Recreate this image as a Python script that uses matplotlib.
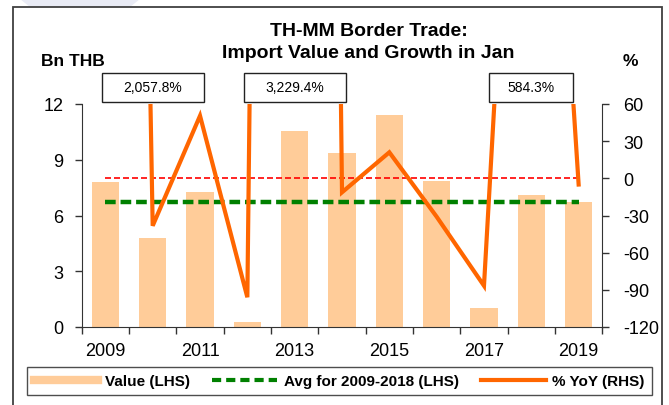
import matplotlib
matplotlib.use("Agg")
from matplotlib import pyplot as plt
from matplotlib.patches import Rectangle, Polygon
from matplotlib.lines import Line2D
import matplotlib.transforms as mtransforms
import numpy as np

plt.rcParams['font.family'] = ['Liberation Sans', 'DejaVu Sans']
plt.rcParams['axes.unicode_minus'] = False

# data
years = [2009, 2010, 2011, 2012, 2013, 2014, 2015, 2016, 2017, 2018, 2019]
value = [7.78, 4.77, 7.24, 0.29, 10.54, 9.39, 11.41, 7.87, 1.02, 7.08, 6.74]
yoy = [2057.8, -38.3, 50.5, -96.0, 3229.4, -11.3, 21.0, -31.0, -86.7, 584.3, -5.0]
label_years = [2010, 2013, 2018]
label_texts = ['2,057.8%', '3,229.4%', '584.3%']

bar_color = '#FFCC99'
line_color = '#FF6600'
green = '#008000'
axis_color = '#333333'

x = np.arange(len(years))
avg = np.mean(value[:10])

fig = plt.figure(figsize=(6.69, 4.06), dpi=100)

# faint watermark at top left and outer frame
fig.patches.append(Polygon([[20/669, 1.0], [140/669, 1.0], [130/669, 1-8/406], [30/669, 1-8/406]],
                           closed=True, transform=fig.transFigure, color='#e9ebf5', lw=0))
fig.patches.append(Rectangle((12.7/669, -0.05), 649/669, 1.05 - 8.3/406, transform=fig.transFigure,
                             fill=False, ec='#404040', lw=1.3))

ax = fig.add_axes([81.7/669, 78/406, 520.6/669, 223/406])
ax2 = ax.twinx()

ax.bar(x, value, width=0.58, color=bar_color, zorder=1)
ax.hlines(avg, x[0], x[-1], color=green, lw=3.2, linestyles=(0, (2.4, 1.1)), zorder=3)

ax2.hlines(0, x[0], x[-1], color='red', lw=1.2, linestyles=(0, (3.6, 1.8)), zorder=2)
ax2.plot(x, yoy, color=line_color, lw=3, solid_joinstyle='miter', zorder=3)

ax.set_xlim(-0.5, len(years) - 0.5)
ax.set_ylim(0, 12)
ax2.set_ylim(-120, 60)
ax.set_yticks([0, 3, 6, 9, 12])
ax2.set_yticks(np.arange(-120, 61, 30))

ax.set_xticks(np.arange(-0.5, len(years), 1))
ax.set_xticklabels([])
ax.set_xticks(x[::2], [str(y) for y in years[::2]], minor=True)
ax.tick_params(axis='x', which='major', direction='out', length=5, width=1, color=axis_color)
ax.tick_params(axis='x', which='minor', length=0, pad=11, labelsize=13)
ax.tick_params(axis='y', direction='out', length=5, width=1, color=axis_color, pad=8, labelsize=13)
ax2.tick_params(axis='y', direction='out', length=5, width=1, color=axis_color, pad=10, labelsize=13)

for a in (ax, ax2):
    a.spines['top'].set_visible(False)
    for s in a.spines.values():
        s.set_color(axis_color)
ax.spines['right'].set_visible(False)
ax2.spines['left'].set_visible(False)
ax2.spines['bottom'].set_visible(False)

# boxed labels for the clipped YoY values
trans = mtransforms.blended_transform_factory(ax.transData, ax.transAxes)
for yr, txt in zip(label_years, label_texts):
    cx = years.index(yr)
    w = 0.67 + 0.185 * len(txt)
    ax2.add_patch(Rectangle((cx - w / 2, 1.01), w, 0.13, transform=trans, clip_on=False,
                            fc='white', ec='#222222', lw=1))
    ax2.text(cx, 1.075, txt, transform=trans, ha='center', va='center', fontsize=10, clip_on=False)

fig.text(368.6/669, 1 - 32/406, 'TH-MM Border Trade:', ha='center', va='center',
         fontsize=14, fontweight='bold')
fig.text(368.6/669, 1 - 53/406, 'Import Value and Growth in Jan', ha='center', va='center',
         fontsize=14, fontweight='bold')
fig.text(72.6/669, 1 - 62/406, 'Bn THB', ha='center', va='center', fontsize=12.5, fontweight='bold')
fig.text(630/669, 1 - 62/406, '%', ha='center', va='center', fontsize=12.5, fontweight='bold')

handles = [Line2D([], [], color=bar_color, lw=6),
           Line2D([], [], color=green, lw=3, linestyle=(0, (2.2, 1.2))),
           Line2D([], [], color=line_color, lw=3)]
labels = ['Value (LHS)', 'Avg for 2009-2018 (LHS)', '% YoY (RHS)']
leg = fig.legend(handles, labels, loc='lower left', mode='expand',
                 bbox_to_anchor=(26.7/669, 1 - 396/406, 625/669, 32/406), ncol=3,
                 frameon=True, fancybox=False, edgecolor='#222222', handlelength=4.2,
                 handletextpad=0.45, borderpad=0.45, borderaxespad=0,
                 prop={'weight': 'bold', 'size': 11})
leg.get_frame().set_linewidth(1)

fig.savefig('out.png', dpi=100)
